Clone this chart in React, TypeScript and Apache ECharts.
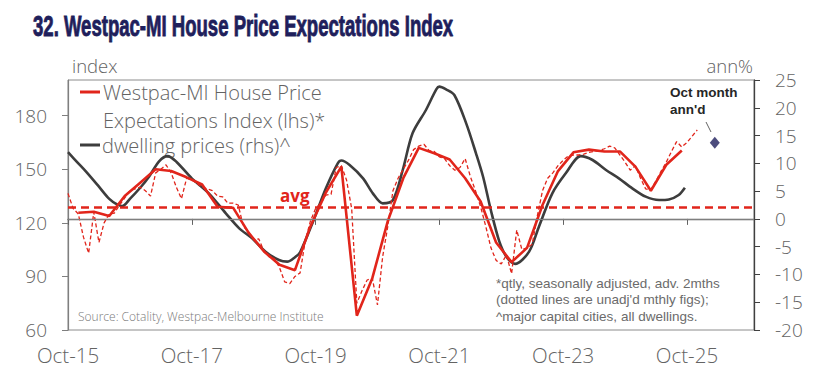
import React, { useEffect, useRef } from 'react';
import * as echarts from 'echarts';

const TITLE = '32. Westpac-MI House Price Expectations Index';
const FOOTNOTE = ['*qtly, seasonally adjusted, adv. 2mths', '(dotted lines are unadj\'d mthly figs);', '^major capital cities, all dwellings.'];
const xTickMonths = [0, 24, 48, 72, 96, 120];
const xTickLabels = ['Oct-15', 'Oct-17', 'Oct-19', 'Oct-21', 'Oct-23', 'Oct-25'];
const leftTicks = [60, 90, 120, 150, 180];
const rightTicks = [-20, -15, -10, -5, 0, 5, 10, 15, 20, 25];

// Quarterly (seasonally adjusted, advanced 2 months) index, lhs. x = months since Oct-15
const qtrMonths = [2, 5, 8, 11, 14, 17, 20, 23, 26, 29, 32, 35, 38, 41, 44, 47, 50, 53, 56, 59, 62, 65, 68, 71, 74, 77, 80, 83, 86, 89, 92, 95, 98, 101, 104, 107, 110, 113, 116, 119];
const qtrIndex = [125.7, 126.2, 123.8, 135, 142.5, 150, 149, 145.5, 141.5, 129, 128.5, 114.5, 104, 96.5, 93.5, 118, 137, 151.5, 68, 89, 121, 145, 162, 159, 155.5, 145, 132, 109, 98, 106, 130, 149, 159.5, 161, 160, 160, 151.5, 138, 152.5, 160.5];

// Monthly unadjusted index, lhs, month 0 = Oct-15
const mthIndex = [136.5, 128, 125, 112, 103, 126, 109, 120, 125, 125.5, 130, 134, 138, 139, 140, 138, 135, 148, 150, 152.5, 148, 140, 133.5, 145, 144, 142, 140, 139, 138, 135, 134.5, 131, 131, 130, 118, 115, 110.5, 111, 104, 101, 100, 95, 87, 86, 90, 92, 110, 121, 128, 131, 135.5, 136, 151, 152, 144, 128, 75, 82, 88, 89, 74, 101, 118, 138, 145, 150, 155, 161, 163, 164, 160.5, 160, 157, 156, 152, 149.5, 151, 156, 146, 138, 129, 118, 106, 99, 97, 102, 91.5, 116, 105, 106, 108, 124, 138, 145, 148, 152, 155, 157.5, 158, 158, 158.5, 159.5, 160, 160.5, 161.5, 163, 162, 158, 154, 149.5, 152, 145, 139, 138.5, 143.5, 149, 154, 160, 165.5, 162.5, 165, 168.5, 172];

// Dwelling prices, annual %, rhs
const dwellMonths = [0, 2, 3.5, 6, 8, 9.5, 10.5, 12, 14, 15.7, 17.7, 19.3, 21, 24, 27.3, 30.6, 33.2, 35.7, 38.3, 40.9, 42.5, 44, 45, 47.5, 50, 52.3, 53, 54.6, 57.2, 59.1, 61, 63, 64.9, 66.8, 69.4, 71.4, 72, 73.3, 74.9, 77.2, 79.1, 80.5, 82, 83.6, 85, 86.7, 89.4, 91.3, 93.9, 96.5, 99.4, 101.7, 104.3, 106.8, 109.4, 112, 114.6, 116.5, 118.4, 119.6];
const dwellGrowth = [12.0, 10.0, 8.5, 5.8, 3.6, 2.6, 2.3, 3.6, 5.6, 7.6, 10.4, 11.3, 10.3, 7.3, 4.6, 1.0, -1.7, -3.5, -5.9, -7.4, -7.7, -6.9, -6.0, -0.5, 5.5, 10.0, 10.5, 9.7, 7.3, 4.6, 2.8, 3.4, 8.8, 15.4, 19.6, 23.3, 23.8, 23.3, 22.3, 17.2, 11.8, 7.5, 1.5, -4.0, -6.8, -8.1, -5.9, -1.4, 4.6, 8.2, 11.3, 10.6, 8.8, 7.3, 5.5, 4.0, 3.4, 3.5, 4.3, 5.6];

const avgLevel = 128.7;
const octPoint = [125.4, 13.7];

const RED = '#e1251b';
const DARK = '#3d3d3d';
const NAVY = '#1f1f5c';
const GREY = '#636363';

export default function App() {
  const ref = useRef<HTMLDivElement>(null);
  useEffect(() => {
    if (!ref.current) return;
    const chart = echarts.init(ref.current, undefined, { renderer: 'svg' });
    const labelFont = { color: GREY, fontSize: 18, fontFamily: 'Open Sans', fontWeight: 300 };
    const option: any = {
      animation: false,
      grid: { left: 68, right: 70, top: 80, bottom: 47, show: true, borderColor: '#8c8c8c', borderWidth: 1 },
      xAxis: {
        type: 'value', min: 0, max: 133, interval: 24,
        axisLine: { lineStyle: { color: GREY, width: 1.3 } },
        axisTick: { show: true, length: 6, customValues: xTickMonths, lineStyle: { color: GREY } },
        axisLabel: {
          customValues: xTickMonths,
          formatter: (v: number) => { const i = xTickMonths.indexOf(v); return i >= 0 ? xTickLabels[i] : ''; },
          ...labelFont, fontSize: 20.5, margin: 14,
        },
        splitLine: { show: false },
      },
      yAxis: [
        {
          type: 'value', min: 60, max: 200, interval: 30, position: 'left',
          axisLine: { show: true, lineStyle: { color: '#7f7f7f', width: 1.2 } },
          axisTick: { show: true, length: 6, customValues: leftTicks, lineStyle: { color: '#7f7f7f' } },
          axisLabel: { customValues: leftTicks, ...labelFont, fontSize: 19, margin: 21 },
          splitLine: { show: false },
        },
        {
          type: 'value', min: -20, max: 25, interval: 5, position: 'right',
          axisLine: { show: true, lineStyle: { color: '#404040', width: 1.3 } },
          axisTick: { show: true, length: 6, customValues: rightTicks, lineStyle: { color: '#404040' } },
          axisLabel: { customValues: rightTicks, ...labelFont, fontSize: 19, margin: 21 },
          splitLine: { show: false },
        },
      ],
      series: [
        {
          name: 'dwelling prices (rhs)^', type: 'line', yAxisIndex: 1, smooth: 0.3, symbol: 'none',
          data: dwellMonths.map((m, i) => [m, dwellGrowth[i]]),
          lineStyle: { color: DARK, width: 2.6 },
          markLine: {
            silent: true, symbol: 'none', label: { show: false },
            lineStyle: { color: '#7f7f7f', width: 1.1, type: 'solid' },
            data: [{ yAxis: 0 }],
          },
          z: 2,
        },
        {
          name: 'monthly', type: 'line', yAxisIndex: 0, symbol: 'none',
          data: mthIndex.map((v, i) => [i, v]),
          lineStyle: { color: RED, width: 1.3, type: [4, 2.5] },
          z: 3,
        },
        {
          name: 'Westpac-MI House Price Expectations Index (lhs)*', type: 'line', yAxisIndex: 0, symbol: 'none',
          data: qtrMonths.map((m, i) => [m, qtrIndex[i]]),
          lineStyle: { color: RED, width: 2.6 },
          markLine: {
            silent: true, symbol: 'none', label: { show: false },
            lineStyle: { color: RED, width: 2.6, type: [8, 5] },
            data: [{ yAxis: avgLevel }],
          },
          z: 4,
        },
        {
          name: 'Oct month ann\'d', type: 'scatter', yAxisIndex: 1, symbol: 'diamond', symbolSize: [10, 12],
          data: [octPoint], itemStyle: { color: NAVY }, z: 5,
        },
      ],
      graphic: [
        { type: 'text', x: 33, y: 26, scaleX: 0.64, style: { text: TITLE, font: 'bold 29px "Liberation Sans", Arial, sans-serif', fill: NAVY, stroke: NAVY, lineWidth: 0.9, verticalAlign: 'middle' } },
        { type: 'text', x: 72, y: 65, style: { text: 'index', font: '300 18.5px "Open Sans"', fill: GREY, verticalAlign: 'middle' } },
        { type: 'text', x: 753, y: 65, style: { text: 'ann%', font: '300 18.5px "Open Sans"', fill: GREY, align: 'right', verticalAlign: 'middle' } },
        { type: 'line', shape: { x1: 80, y1: 92, x2: 100, y2: 92 }, style: { stroke: RED, lineWidth: 3 } },
        { type: 'text', x: 103, y: 92, style: { text: 'Westpac-MI House Price', font: '300 20px "Open Sans"', fill: GREY, verticalAlign: 'middle' } },
        { type: 'text', x: 103, y: 120, style: { text: 'Expectations Index (lhs)*', font: '300 20px "Open Sans"', fill: GREY, verticalAlign: 'middle' } },
        { type: 'line', shape: { x1: 80, y1: 145, x2: 100, y2: 145 }, style: { stroke: DARK, lineWidth: 3 } },
        { type: 'text', x: 102, y: 145, style: { text: 'dwelling prices (rhs)^', font: '300 20px "Open Sans"', fill: GREY, verticalAlign: 'middle' } },
        { type: 'text', x: 280, y: 195, style: { text: 'avg', font: 'bold 17px "Open Sans"', fill: RED, verticalAlign: 'middle' } },
        { type: 'text', x: 670, y: 100.5, style: { text: 'Oct month\nann\'d', font: 'bold 13.5px "Liberation Sans", Arial', fill: '#262626', verticalAlign: 'middle', lineHeight: 17 } },
        { type: 'line', shape: { x1: 706, y1: 122, x2: 711, y2: 132 }, style: { stroke: GREY, lineWidth: 1 } },
        { type: 'text', x: 496, y: 299.5, style: { text: FOOTNOTE.join('\n'), font: '13.5px "Liberation Sans", Arial', fill: '#6b6b6b', verticalAlign: 'middle', lineHeight: 16.5 } },
        { type: 'text', x: 78, y: 316, style: { text: 'Source: Cotality, Westpac-Melbourne Institute', font: '300 12px "Open Sans"', fill: '#7a7a7a', verticalAlign: 'middle' } },
      ],
    };
    chart.setOption(option);
    return () => chart.dispose();
  }, []);
  return <div ref={ref} style={{ position: 'fixed', left: 0, top: 0, width: 824, height: 377, background: '#fff' }} />;
}
